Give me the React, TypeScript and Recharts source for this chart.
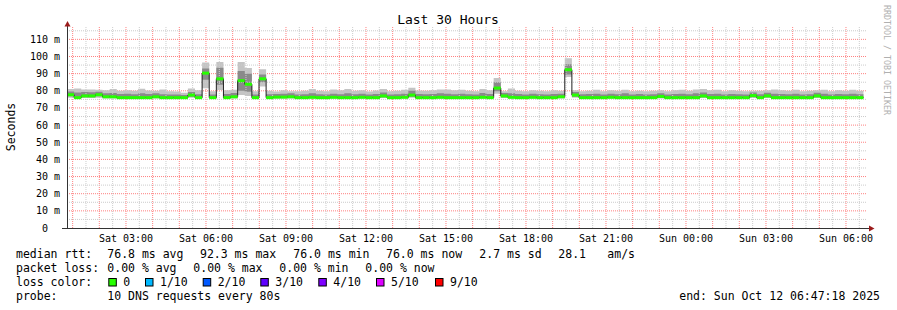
import { Area, CartesianGrid, ComposedChart, Line, ReferenceLine, XAxis, YAxis } from "recharts";

const W = 897;
const H = 310;
const PLOT_LEFT = 67;
const PLOT_TOP = 27;
const PLOT_RIGHT = 867;
const PLOT_BOTTOM = 228;
const HOURS = 30;
const Y_MAX = 117.2;
const STEP_H = 16 / 60; // 16 minute consolidation step
const FIRST_HOUR = (60 - 47.3) / 60; // graph starts Sat 00:47:18

const MONO = '"DejaVu Sans Mono", monospace';
const GREEN = "#26ff00";
const MGRID = "#ff8080";
const GRID = "#cccccc";

// median rtt per step (ms)
const median = [
  77.7, 76.0, 77.0, 77.0, 77.7, 76.5, 76.5, 76.0, 76.0, 76.0,
  76.0, 76.0, 76.5, 76.0, 76.0, 76.0, 76.0, 77.5, 76.0, 90.3,
  76.0, 87.0, 76.0, 76.5, 85.9, 83.8, 76.0, 87.0, 76.0, 76.3,
  76.3, 76.5, 76.0, 76.0, 76.2, 76.0, 76.0, 76.2, 76.0, 76.0,
  76.0, 76.2, 76.0, 76.0, 77.0, 76.0, 76.0, 76.2, 77.5, 76.0,
  76.0, 76.0, 76.2, 76.0, 76.0, 76.0, 76.0, 76.0, 76.2, 76.0,
  81.6, 77.0, 76.2, 76.0, 76.0, 76.2, 76.0, 76.0, 76.0, 76.5,
  92.3, 77.5, 76.0, 76.0, 76.0, 76.0, 76.2, 76.0, 76.0, 76.0,
  76.0, 76.0, 76.0, 76.7, 76.0, 76.0, 76.0, 76.0, 76.0, 77.0,
  76.0, 76.0, 76.0, 76.0, 76.0, 76.0, 77.2, 76.0, 77.0, 76.0,
  76.0, 76.0, 76.0, 76.0, 76.0, 77.0, 76.0, 76.0, 76.0, 76.0,
  76.0, 76.0,
];

// smoke: fastest and slowest ping per step
const smokeMin = [
  76.0, 75.5, 75.8, 75.8, 76.0, 75.5, 75.5, 75.5, 75.5, 75.5,
  75.5, 75.5, 75.5, 75.5, 75.5, 75.5, 75.5, 76.0, 75.5, 81.5,
  75.5, 80.5, 75.5, 75.5, 77.5, 77.0, 75.5, 82.5, 75.5, 75.5,
  75.5, 75.5, 75.5, 75.5, 75.5, 75.5, 75.5, 75.5, 75.5, 75.5,
  75.5, 75.5, 75.5, 75.5, 75.8, 75.5, 75.5, 75.5, 76.0, 75.5,
  75.5, 75.5, 75.5, 75.5, 75.5, 75.5, 75.5, 75.5, 75.5, 75.5,
  78.3, 75.8, 75.5, 75.5, 75.5, 75.5, 75.5, 75.5, 75.5, 75.5,
  88.0, 76.0, 75.5, 75.5, 75.5, 75.5, 75.5, 75.5, 75.5, 75.5,
  75.5, 75.5, 75.5, 75.5, 75.5, 75.5, 75.5, 75.5, 75.5, 75.8,
  75.5, 75.5, 75.5, 75.5, 75.5, 75.5, 75.8, 75.5, 75.8, 75.5,
  75.5, 75.5, 75.5, 75.5, 75.5, 75.8, 75.5, 75.5, 75.5, 75.5,
  75.5, 75.5,
];
const smokeMax = [
  81.0, 81.4, 80.8, 80.8, 80.6, 80.3, 81.1, 80.0, 80.3, 80.0,
  81.2, 80.2, 80.0, 80.8, 79.8, 79.6, 78.8, 81.4, 80.3, 96.5,
  79.8, 96.8, 80.3, 80.6, 96.8, 93.3, 79.8, 92.5, 80.0, 79.6,
  80.3, 79.8, 79.8, 80.0, 81.1, 80.0, 79.8, 80.8, 80.3, 81.1,
  80.0, 80.3, 79.6, 80.2, 81.1, 79.8, 80.0, 80.6, 81.8, 80.2,
  80.0, 80.3, 80.8, 80.8, 80.3, 80.6, 80.1, 79.8, 81.1, 80.3,
  87.5, 79.8, 81.3, 80.1, 79.8, 80.3, 80.0, 79.8, 80.3, 80.0,
  99.0, 80.3, 79.8, 80.1, 80.6, 79.8, 80.3, 80.1, 80.6, 79.8,
  80.1, 79.8, 80.0, 80.3, 79.8, 80.3, 80.6, 80.1, 80.8, 81.1,
  80.3, 80.6, 79.8, 80.3, 80.0, 79.8, 80.1, 80.0, 80.3, 80.8,
  80.3, 80.0, 80.6, 79.8, 80.1, 80.3, 80.6, 79.8, 80.3, 80.1,
  80.6, 80.1,
];
// denser middle part of the smoke
const smokeLo = [
  76.8, 75.8, 76.2, 76.2, 76.8, 75.9, 75.9, 75.8, 75.8, 75.8,
  75.8, 75.8, 75.9, 75.8, 75.8, 75.8, 75.8, 76.5, 75.8, 86.5,
  75.8, 83.5, 75.8, 75.9, 80.0, 79.5, 75.8, 85.0, 75.8, 75.8,
  75.8, 75.9, 75.8, 75.8, 75.8, 75.8, 75.8, 75.8, 75.8, 75.8,
  75.8, 75.8, 75.8, 75.8, 76.2, 75.8, 75.8, 75.8, 76.5, 75.8,
  75.8, 75.8, 75.8, 75.8, 75.8, 75.8, 75.8, 75.8, 75.8, 75.8,
  79.8, 76.2, 75.8, 75.8, 75.8, 75.8, 75.8, 75.8, 75.8, 75.9,
  89.5, 76.5, 75.8, 75.8, 75.8, 75.8, 75.8, 75.8, 75.8, 75.8,
  75.8, 75.8, 75.8, 75.9, 75.8, 75.8, 75.8, 75.8, 75.8, 76.2,
  75.8, 75.8, 75.8, 75.8, 75.8, 75.8, 76.3, 75.8, 76.2, 75.8,
  75.8, 75.8, 75.8, 75.8, 75.8, 76.2, 75.8, 75.8, 75.8, 75.8,
  75.8, 75.8,
];
const smokeHi = [
  79.6, 79.0, 79.3, 79.1, 79.5, 78.5, 78.7, 78.1, 78.3, 78.0,
  78.5, 78.1, 78.5, 78.0, 77.9, 77.8, 77.5, 79.3, 78.0, 93.0,
  77.9, 93.5, 78.1, 78.7, 91.5, 90.0, 77.8, 89.5, 78.0, 78.1,
  78.3, 78.5, 77.9, 78.0, 78.5, 78.0, 77.9, 78.3, 78.0, 78.5,
  78.0, 78.3, 77.8, 78.1, 79.0, 77.9, 78.0, 78.3, 80.0, 78.1,
  78.0, 78.2, 78.5, 78.3, 78.0, 78.3, 78.0, 77.9, 78.7, 78.1,
  85.0, 78.7, 78.5, 78.1, 77.9, 78.3, 78.0, 77.9, 78.1, 78.3,
  95.5, 79.3, 78.0, 78.1, 78.3, 77.9, 78.3, 78.0, 78.5, 77.9,
  78.1, 77.9, 78.0, 78.5, 77.9, 78.1, 78.3, 78.0, 78.5, 79.0,
  78.1, 78.3, 77.9, 78.1, 78.0, 77.9, 79.0, 78.0, 78.8, 78.3,
  78.1, 78.0, 78.3, 77.9, 78.0, 78.8, 78.3, 77.9, 78.1, 78.0,
  78.3, 78.0,
];

const yTicks = [0, 10, 20, 30, 40, 50, 60, 70, 80, 90, 100, 110];
const yMinor = [5, 15, 25, 35, 45, 55, 65, 75, 85, 95, 105, 115];
const timeLabels = [
  "Sat 03:00", "Sat 06:00", "Sat 09:00", "Sat 12:00", "Sat 15:00",
  "Sat 18:00", "Sat 21:00", "Sun 00:00", "Sun 03:00", "Sun 06:00",
];
const lossLabels = ["0", "1/10", "2/10", "3/10", "4/10", "5/10", "9/10"];
const lossColors = ["#26ff00", "#00b8ff", "#0059ff", "#5e00ff", "#7e00ff", "#dd00ff", "#ff0000"];
const lossX = [123.3, 160, 217.7, 275.3, 333.3, 391, 450];

const data = median.map((m, i) => ({
  t: i * STEP_H,
  median: m,
  outer: [smokeMin[i], smokeMax[i]],
  inner: [smokeLo[i], smokeHi[i]],
}));
// closing point so the last step has a width
data.push({ ...data[data.length - 1], t: median.length * STEP_H });

const hourLines = Array.from({ length: HOURS }, (_, k) => FIRST_HOUR + k);
const halfHourLines = hourLines.map((h) => h + 0.5);
const labelTicks = timeLabels.map((_, k) => FIRST_HOUR + 2 + 3 * k);

const stepPx = ((PLOT_RIGHT - PLOT_LEFT) * STEP_H) / HOURS;

function GreenStep(props: any) {
  const { cx, cy, index } = props;
  if (cx == null || cy == null || index >= median.length) return <g key={index} />;
  return <rect key={index} x={cx} y={cy - 1.5} width={stepPx} height={3} fill={GREEN} />;
}

function TimeTick(props: any) {
  const { x, y, index } = props;
  return (
    <text x={x} y={y + 10} textAnchor="middle" dominantBaseline="central" fontSize={10} fontFamily={MONO} fill="#000">
      {timeLabels[index]}
    </text>
  );
}

function ValueTick(props: any) {
  const { y, payload } = props;
  const v = payload.value;
  return (
    <text x={PLOT_LEFT - 7} y={y} textAnchor="end" dominantBaseline="central" fontSize={10} fontFamily={MONO} fill="#000" style={{ whiteSpace: "pre" }}>
      {v === 0 ? "0  " : `${v} m`}
    </text>
  );
}

const txt = { fontFamily: MONO, fontSize: 11.5, fill: "#000", dominantBaseline: "central" as const, style: { whiteSpace: "pre" as const } };

export default function App() {
  return (
    <div style={{ position: "relative", width: W, height: H, background: "#fff" }}>
      <style>{"body{margin:0}"}</style>
      <ComposedChart width={W} height={H} data={data} margin={{ top: PLOT_TOP, right: W - PLOT_RIGHT, bottom: 52, left: 7 }}>
        <XAxis dataKey="t" type="number" domain={[0, HOURS]} ticks={labelTicks} tick={<TimeTick />} tickLine={false} axisLine={false} tickSize={0} tickMargin={0} height={30} interval={0} allowDataOverflow />
        <YAxis type="number" domain={[0, Y_MAX]} ticks={yTicks} tick={<ValueTick />} tickLine={false} axisLine={false} width={60} interval={0} allowDataOverflow />
        {halfHourLines.map((h) => (
          <ReferenceLine key={`vh${h}`} x={h} stroke={GRID} strokeDasharray="1 1" />
        ))}
        {yMinor.map((v) => (
          <ReferenceLine key={`ym${v}`} y={v} stroke={GRID} strokeDasharray="1 1" />
        ))}
        <CartesianGrid
          stroke={MGRID}
          strokeDasharray="1 1"
          verticalValues={hourLines}
          horizontalValues={yTicks.slice(1)}
        />
        <Area dataKey="outer" type="stepAfter" stroke="none" fill="#c4c4c4" fillOpacity={1} isAnimationActive={false} />
        <Area dataKey="inner" type="stepAfter" stroke="none" fill="#8a8a8a" fillOpacity={1} isAnimationActive={false} />
        <Line dataKey="median" type="stepAfter" stroke="#202020" strokeWidth={1} dot={false} isAnimationActive={false} />
        <Line dataKey="median" type="stepAfter" stroke="transparent" strokeWidth={0} dot={(p: any) => <GreenStep key={p.index} {...p} />} activeDot={false} isAnimationActive={false} />
      </ComposedChart>
      <svg width={W} height={H} style={{ position: "absolute", left: 0, top: 0, pointerEvents: "none" }}>
        <text x={448} y={19} textAnchor="middle" dominantBaseline="central" fontFamily={MONO} fontSize={13} fill="#000">
          Last 30 Hours
        </text>
        <text transform="translate(11,127) rotate(-90)" textAnchor="middle" dominantBaseline="central" fontFamily={MONO} fontSize={11.5} fill="#000">
          Seconds
        </text>
        <text transform="translate(887,60) rotate(90)" textAnchor="middle" dominantBaseline="central" fontFamily={MONO} fontSize={8.3} fill="#b0b0b0">
          RRDTOOL / TOBI OETIKER
        </text>
        <line x1={PLOT_LEFT + 0.5} y1={PLOT_BOTTOM + 1} x2={PLOT_LEFT + 0.5} y2={24} stroke="#333" />
        <line x1={62} y1={PLOT_BOTTOM + 0.5} x2={870} y2={PLOT_BOTTOM + 0.5} stroke="#333" />
        <polygon points={`${PLOT_LEFT - 2.5},26.5 ${PLOT_LEFT + 3.5},26.5 ${PLOT_LEFT + 0.5},21`} fill="#9b1b1b" />
        <polygon points={`869,${PLOT_BOTTOM - 2.5} 869,${PLOT_BOTTOM + 3.5} 874.5,${PLOT_BOTTOM + 0.5}`} fill="#9b1b1b" />

        <text x={16} y={254.3} {...txt}>median rtt:</text>
        <text x={107.3} y={254.3} {...txt}>76.8 ms avg</text>
        <text x={200} y={254.3} {...txt}>92.3 ms max</text>
        <text x={293.3} y={254.3} {...txt}>76.0 ms min</text>
        <text x={386} y={254.3} {...txt}>76.0 ms now</text>
        <text x={479.3} y={254.3} {...txt}>2.7 ms sd</text>
        <text x={558.3} y={254.3} {...txt}>28.1</text>
        <text x={607.3} y={254.3} {...txt}>am/s</text>

        <text x={16} y={268.3} {...txt}>packet loss:</text>
        <text x={107.3} y={268.3} {...txt}>0.00 % avg</text>
        <text x={193.3} y={268.3} {...txt}>0.00 % max</text>
        <text x={279.3} y={268.3} {...txt}>0.00 % min</text>
        <text x={365.3} y={268.3} {...txt}>0.00 % now</text>

        <text x={16} y={282.3} {...txt}>loss color:</text>
        {lossLabels.map((l, i) => (
          <g key={l}>
            <rect x={lossX[i] - 14.5} y={278.5} width={7.5} height={7.5} fill={lossColors[i]} stroke="#000" strokeWidth={1} />
            <text x={lossX[i]} y={282.3} {...txt}>{l}</text>
          </g>
        ))}

        <text x={16} y={296} {...txt}>probe:</text>
        <text x={107.3} y={296} {...txt}>10 DNS requests every 80s</text>
        <text x={880} y={296} textAnchor="end" {...txt}>end: Sun Oct 12 06:47:18 2025</text>
      </svg>
    </div>
  );
}
